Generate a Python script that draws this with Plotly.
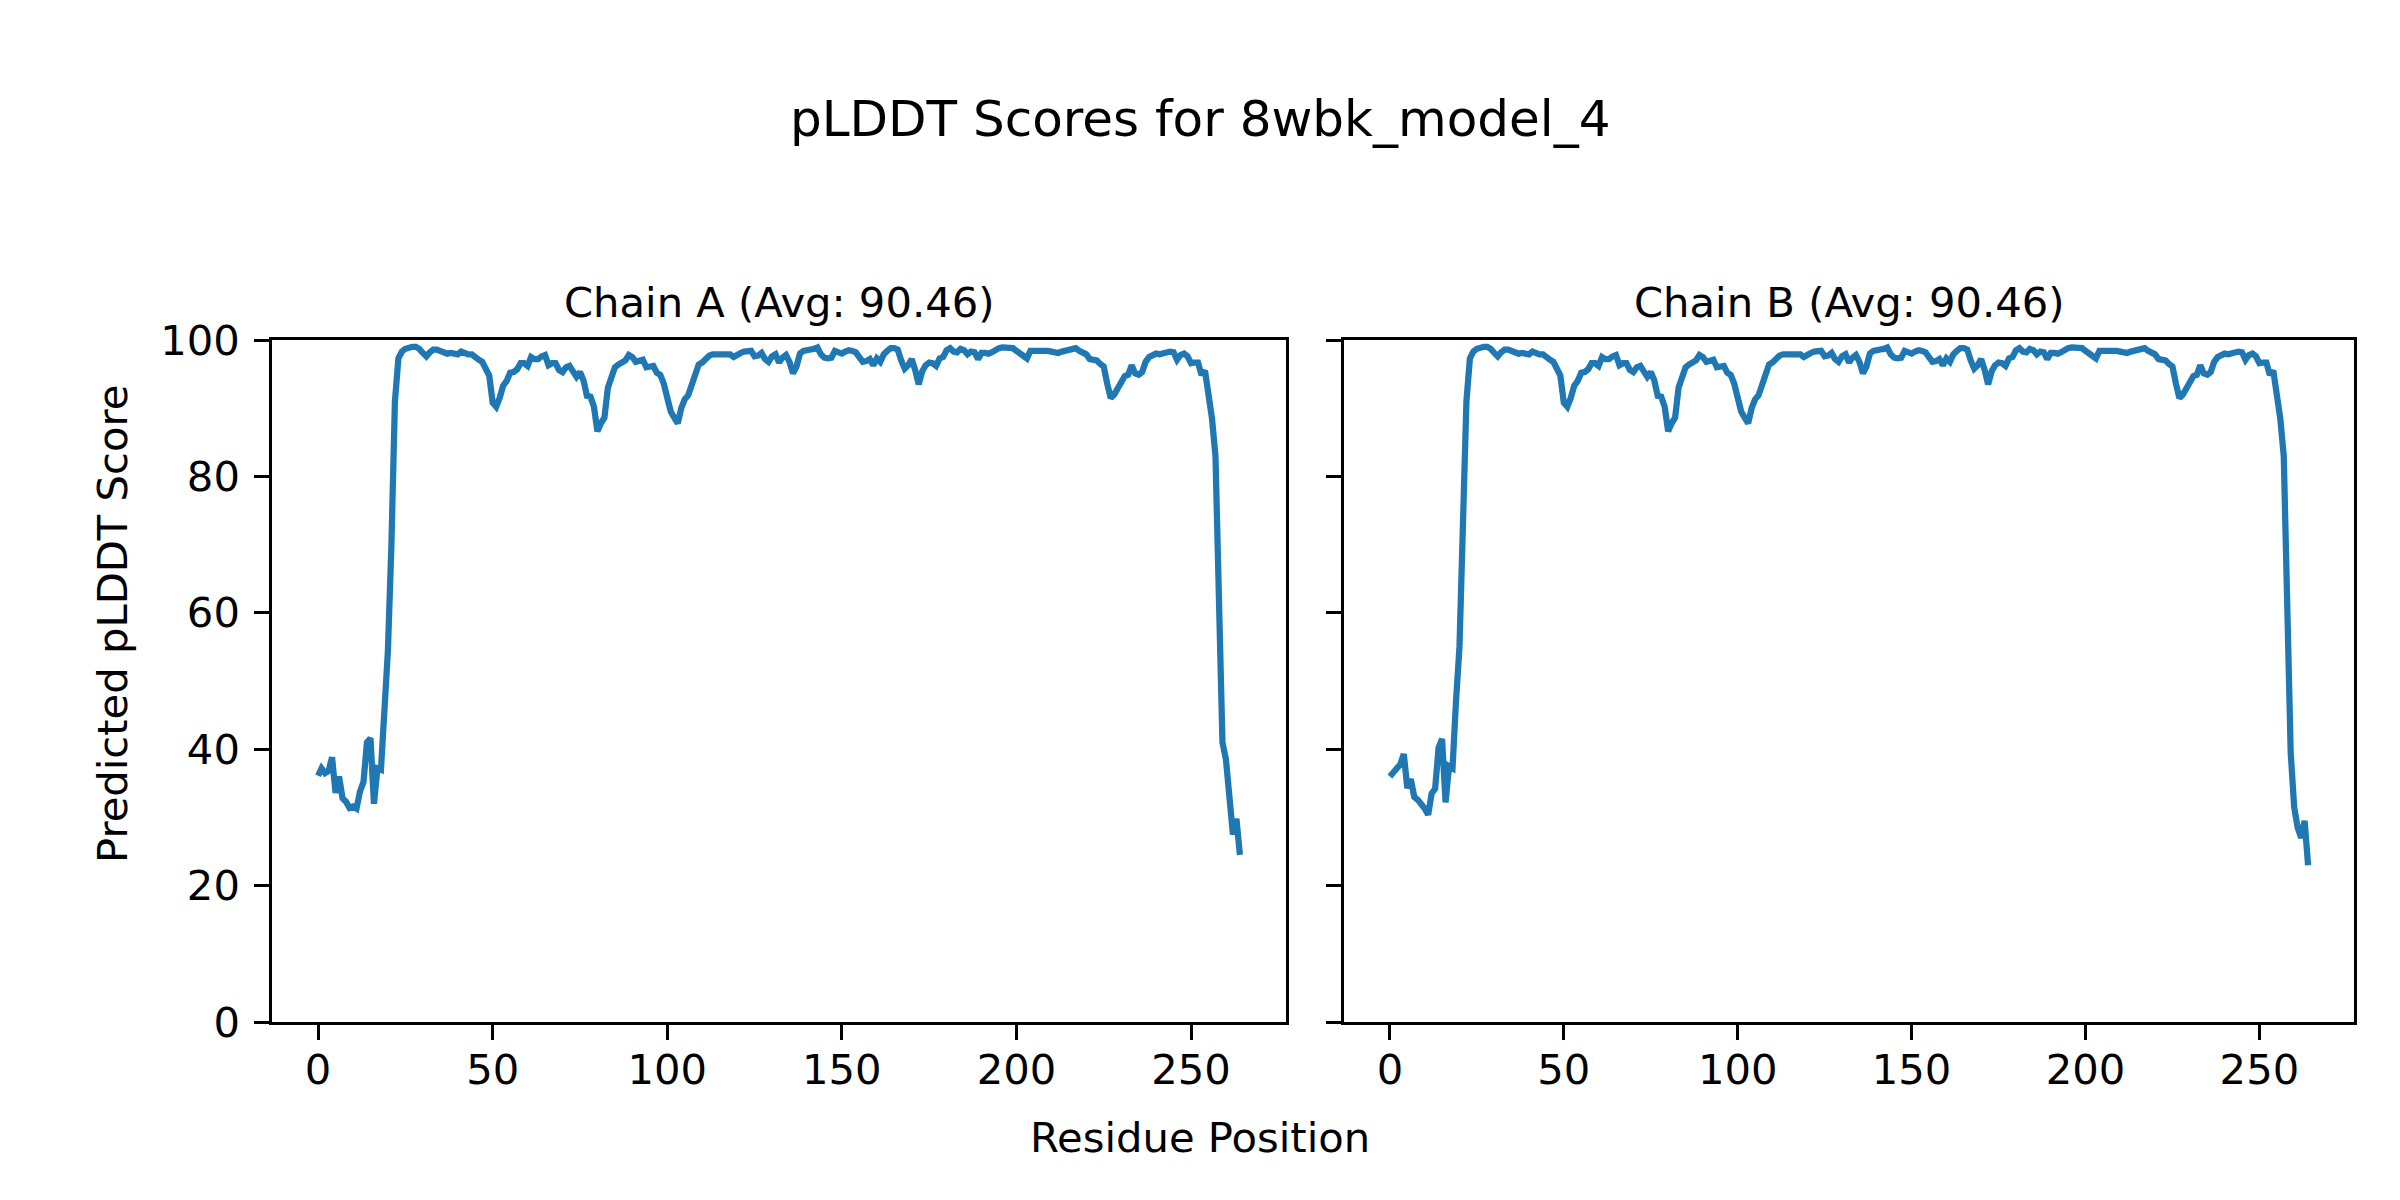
import plotly.graph_objects as go

# ---------------- data ----------------
# Residue indices 0..264 for both chains
chain_a_nterm = [36.1, 37.2, 36.5, 36.8, 38.8, 33.6, 36.0, 32.8, 32.3, 31.4,
                 31.6, 31.3, 33.8, 35.2, 41.0, 41.6, 32.0, 37.2, 37.0, 44.5,
                 54.5, 70.0]
chain_b_nterm = [36.0, 36.5, 37.0, 37.8, 39.3, 34.3, 35.6, 33.0, 32.6, 32.0,
                 31.3, 30.4, 33.5, 34.2, 40.2, 41.5, 32.2, 37.5, 37.2, 47.0,
                 55.0, 73.0]

# residues 22..254 (identical in both chains)
shared_core = [
    91.0, 97.3, 98.3, 98.7, 98.9, 99.0, 99.0, 98.7, 98.1, 97.6,   # 22-31
    98.2, 98.6, 98.6, 98.4, 98.1, 98.0, 98.1, 98.0, 97.9, 98.3,   # 32-41
    98.0, 97.9, 97.9, 97.4, 97.1, 96.8, 96.0, 94.8, 90.8, 90.2,   # 42-51
    91.5, 93.3, 94.0, 95.2, 95.3, 95.7, 96.6, 96.6, 96.2, 97.5,   # 52-61
    97.2, 97.2, 97.6, 97.8, 96.3, 96.6, 96.6, 95.6, 95.3, 96.0,   # 62-71
    96.2, 95.2, 94.6, 95.3, 94.1, 91.8, 91.7, 90.2, 86.6, 87.8,   # 72-81
    88.6, 93.0, 94.6, 96.0, 96.4, 96.6, 97.0, 97.8, 97.5, 96.8,   # 82-91
    96.9, 97.1, 96.0, 96.1, 96.2, 95.2, 94.9, 93.6, 91.2, 89.5,   # 92-101
    88.6, 87.8, 90.0, 91.3, 91.9, 93.5, 95.3, 96.4, 96.7, 97.3,   # 102-111
    97.7, 97.9, 97.9, 97.9, 97.8, 98.0, 97.9, 97.5, 97.9, 98.1,   # 112-121
    98.3, 98.3, 98.4, 97.6, 97.7, 98.1, 97.2, 96.8, 97.6, 97.9,   # 122-131
    96.7, 97.4, 97.8, 96.8, 95.1, 96.1, 98.0, 98.4, 98.6, 98.6,   # 132-141
    98.7, 98.9, 97.9, 97.4, 97.3, 97.4, 98.4, 98.2, 98.0, 98.3,   # 142-151
    98.5, 98.4, 98.2, 97.5, 96.8, 96.9, 97.2, 96.3, 97.3, 96.8,   # 152-161
    97.9, 98.4, 98.8, 98.8, 98.6, 97.0, 95.8, 96.3, 97.2, 95.6,   # 162-171
    93.5, 95.4, 96.3, 96.7, 96.6, 96.2, 97.3, 97.5, 98.5, 98.8,   # 172-181
    98.3, 98.2, 98.7, 98.5, 97.9, 98.3, 98.2, 97.2, 98.1, 98.1,   # 182-191
    98.0, 98.2, 98.6, 98.8, 98.9, 98.9, 99.0, 98.8, 98.4, 98.0,   # 192-201
    97.6, 97.3, 98.4, 98.4, 98.4, 98.5, 98.6, 98.4, 98.3, 98.2,   # 202-211
    98.1, 98.3, 98.4, 98.5, 98.6, 98.8, 98.4, 98.1, 97.9, 97.2,   # 212-221
    97.1, 97.0, 96.5, 96.1, 93.6, 91.5, 92.0, 92.9, 93.8, 94.7,   # 222-231
    94.9, 96.3, 95.1, 94.9, 95.3, 96.8, 97.5, 97.8, 98.0, 97.9,   # 232-241
    98.1, 98.1, 98.3, 98.2, 97.1, 97.8, 98.0, 97.6, 96.6, 96.7,   # 242-251
    96.7, 94.9, 95.5,                                             # 252-254
]

chain_a_cterm = [92.0, 88.5, 83.0, 62.5, 41.0, 38.5, 32.0, 27.5, 29.8, 24.5]  # 255-264
chain_b_cterm = [92.0, 88.5, 83.0, 62.0, 39.5, 31.5, 28.5, 27.0, 29.5, 23.0]  # 255-264

chain_a = chain_a_nterm + shared_core + chain_a_cterm
chain_b = chain_b_nterm + shared_core + chain_b_cterm
residues_a = list(range(len(chain_a)))
residues_b = list(range(len(chain_b)))

suptitle = "pLDDT Scores for 8wbk_model_4"
titles = ["Chain A (Avg: 90.46)", "Chain B (Avg: 90.46)"]
y_ticks = [0, 20, 40, 60, 80, 100]
x_ticks = [0, 50, 100, 150, 200, 250]

# ---------------- figure ----------------
# page body has an 8px margin; keep figure inside a 2400x1200 viewport
OFF = 8
W, H = 2400 - 2 * OFF, 1200 - 2 * OFF
FONT = "DejaVu Sans"
BLUE = "#1f77b4"
LW = 3.3      # spine / tick width
TL = 14.6     # tick length
FS = 41.7     # tick / label font size


def px_x(sx):
    return (sx - OFF) / W


def px_y(sy):
    return 1 - (sy - OFF) / H


fig = go.Figure()
fig.add_trace(go.Scatter(x=residues_a, y=chain_a, mode="lines",
                         line=dict(color=BLUE, width=6.25),
                         xaxis="x", yaxis="y", showlegend=False))
fig.add_trace(go.Scatter(x=residues_b, y=chain_b, mode="lines",
                         line=dict(color=BLUE, width=6.25),
                         xaxis="x2", yaxis="y2", showlegend=False))

x_dom_a = [px_x(272), px_x(1286)]
x_dom_b = [px_x(1344), px_x(2354)]
y_dom = [px_y(1022), px_y(340)]

common_x = dict(range=[-13.2, 277.2], tickvals=x_ticks, ticks="outside",
                ticklen=TL, tickwidth=LW, tickcolor="black",
                showline=True, linecolor="black", linewidth=LW, mirror=True,
                showgrid=False, zeroline=False,
                tickfont=dict(family=FONT, size=FS, color="black"),
                ticklabelstandoff=-6)
common_y = dict(range=[0, 100], tickvals=y_ticks, ticks="outside",
                ticklen=TL, tickwidth=LW, tickcolor="black",
                showline=True, linecolor="black", linewidth=LW, mirror=True,
                showgrid=False, zeroline=False,
                tickfont=dict(family=FONT, size=FS, color="black"),
                ticklabelstandoff=6)

fig.update_layout(
    width=W, height=H,
    margin=dict(l=0, r=0, t=0, b=0),
    paper_bgcolor="white", plot_bgcolor="white",
    font=dict(family=FONT, color="black"),
    xaxis=dict(domain=x_dom_a, anchor="y", automargin=False, **common_x),
    yaxis=dict(domain=y_dom, anchor="x", automargin=False, **common_y),
    xaxis2=dict(domain=x_dom_b, anchor="y2", automargin=False, **common_x),
    yaxis2=dict(domain=y_dom, anchor="x2", showticklabels=False, automargin=False,
                **{k: v for k, v in common_y.items() if k not in ("tickfont", "ticklabelstandoff")}),
    showlegend=False,
)

annots = [
    dict(text=suptitle, x=px_x(1200), y=px_y(119), font=dict(size=50, family=FONT)),
    dict(text=titles[0], x=(x_dom_a[0] + x_dom_a[1]) / 2, y=px_y(303), font=dict(size=FS, family=FONT)),
    dict(text=titles[1], x=(x_dom_b[0] + x_dom_b[1]) / 2, y=px_y(303), font=dict(size=FS, family=FONT)),
    dict(text="Residue Position", x=px_x(1200), y=px_y(1137), font=dict(size=FS, family=FONT)),
    dict(text="Predicted pLDDT Score", x=px_x(112), y=px_y(624), textangle=-90,
         font=dict(size=FS, family=FONT)),
]
for a in annots:
    fig.add_annotation(xref="paper", yref="paper", showarrow=False,
                       xanchor="center", yanchor="middle", **a)

fig.write_html("out.html", config={"displayModeBar": False})
